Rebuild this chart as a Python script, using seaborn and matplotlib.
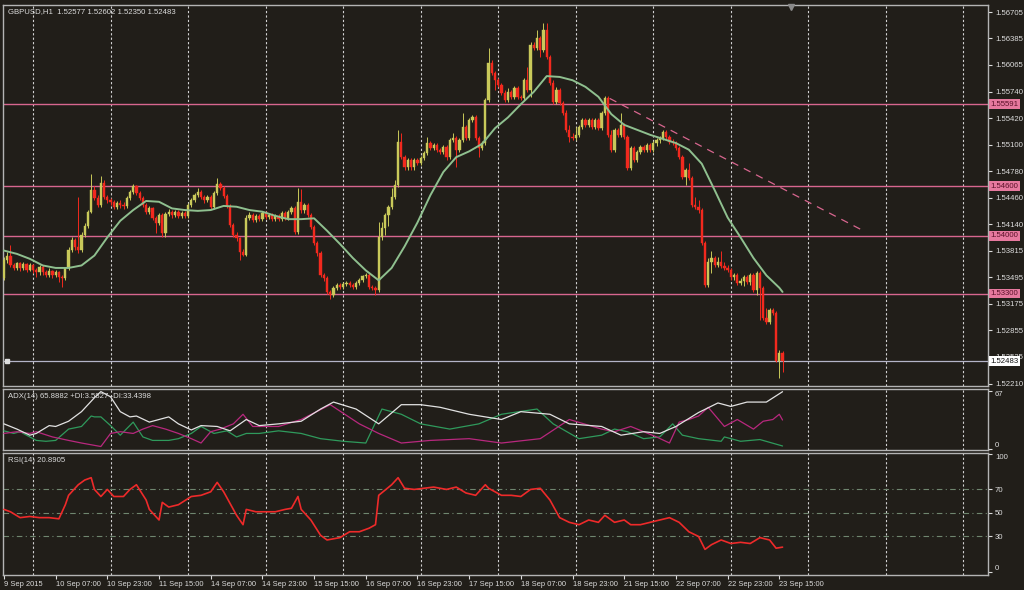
import pandas as pd
import matplotlib.pyplot as plt
import seaborn as sns

BG = '#211e19'
sns.set_theme(style="dark", rc={"axes.facecolor": BG, "figure.facecolor": BG})
plt.rcParams['font.family'] = ['Liberation Sans', 'DejaVu Sans']

# ---- GBPUSD H1 candles (bar 0 = 9 Sep 2015 15:00) ----
opens = [
    1.5349, 1.5370, 1.5376, 1.5364, 1.5361, 1.5367, 1.5361, 1.5366, 1.5358, 1.5364,
    1.5358, 1.5356, 1.5362, 1.5356, 1.5353, 1.5357, 1.5352, 1.5356, 1.5350, 1.5349,
    1.5361, 1.5383, 1.5395, 1.5386, 1.5383, 1.5401, 1.5412, 1.5429, 1.5455, 1.5445,
    1.5437, 1.5464, 1.5447, 1.5443, 1.5441, 1.5435, 1.5439, 1.5437, 1.5436, 1.5445,
    1.5453, 1.5460, 1.5452, 1.5445, 1.5437, 1.5429, 1.5433, 1.5421, 1.5415, 1.5425,
    1.5403, 1.5426, 1.5429, 1.5425, 1.5429, 1.5424, 1.5427, 1.5424, 1.5437, 1.5443,
    1.5449, 1.5453, 1.5447, 1.5443, 1.5447, 1.5435, 1.5452, 1.5462, 1.5458, 1.5448,
    1.5436, 1.5413, 1.5401, 1.5397, 1.5380, 1.5377, 1.5421, 1.5425, 1.5419, 1.5424,
    1.5420, 1.5427, 1.5422, 1.5425, 1.5420, 1.5424, 1.5420, 1.5427, 1.5421, 1.5429,
    1.5433, 1.5404, 1.5441, 1.5431, 1.5437, 1.5425, 1.5410, 1.5391, 1.5379, 1.5352,
    1.5349, 1.5332, 1.5328, 1.5337, 1.5340, 1.5338, 1.5341, 1.5343, 1.5340, 1.5338,
    1.5343, 1.5346, 1.5351, 1.5352, 1.5338, 1.5337, 1.5334, 1.5398, 1.5409, 1.5425,
    1.5435, 1.5447, 1.5461, 1.5513, 1.5495, 1.5483, 1.5491, 1.5483, 1.5491, 1.5488,
    1.5494, 1.5500, 1.5512, 1.5506, 1.5510, 1.5504, 1.5501, 1.5507, 1.5495, 1.5516,
    1.5518, 1.5504, 1.5516, 1.5531, 1.5518, 1.5540, 1.5543, 1.5518, 1.5506, 1.5512,
    1.5564, 1.5609, 1.5597, 1.5588, 1.5582, 1.5572, 1.5564, 1.5574, 1.5568, 1.5579,
    1.5568, 1.5566, 1.5588, 1.5576, 1.5631, 1.5627, 1.5639, 1.5625, 1.5649, 1.5616,
    1.5585, 1.5562, 1.5576, 1.5560, 1.5548, 1.5528, 1.5519, 1.5518, 1.5522, 1.5531,
    1.5540, 1.5534, 1.5540, 1.5531, 1.5540, 1.5530, 1.5548, 1.5566, 1.5522, 1.5504,
    1.5528, 1.5522, 1.5534, 1.5519, 1.5482, 1.5506, 1.5491, 1.5501, 1.5507, 1.5504,
    1.5510, 1.5504, 1.5512, 1.5516, 1.5518, 1.5525, 1.5519, 1.5513, 1.5512, 1.5506,
    1.5495, 1.5471, 1.5479, 1.5470, 1.5437, 1.5435, 1.5431, 1.5391, 1.5340, 1.5368,
    1.5373, 1.5364, 1.5368, 1.5363, 1.5361, 1.5358, 1.5350, 1.5352, 1.5343, 1.5345,
    1.5350, 1.5344, 1.5352, 1.5334, 1.5355, 1.5337, 1.5301, 1.5295, 1.5310, 1.5306,
    1.5249, 1.52577,
]
highs = [
    1.5374, 1.5380, 1.5389, 1.5367, 1.5368, 1.5368, 1.5368, 1.5367, 1.5367, 1.5366,
    1.5361, 1.5364, 1.5364, 1.5358, 1.5361, 1.5358, 1.5358, 1.5357, 1.5352, 1.5362,
    1.5386, 1.5398, 1.5397, 1.5447, 1.5404, 1.5415, 1.5431, 1.5475, 1.5460, 1.5449,
    1.5472, 1.5467, 1.5449, 1.5445, 1.5443, 1.5442, 1.5443, 1.5441, 1.5448, 1.5455,
    1.5462, 1.5461, 1.5454, 1.5448, 1.5439, 1.5436, 1.5435, 1.5424, 1.5427, 1.5427,
    1.5429, 1.5432, 1.5431, 1.5431, 1.5431, 1.5430, 1.5430, 1.5439, 1.5445, 1.5452,
    1.5458, 1.5455, 1.5449, 1.5449, 1.5449, 1.5454, 1.5470, 1.5465, 1.5460, 1.5450,
    1.5438, 1.5415, 1.5404, 1.5399, 1.5384, 1.5425, 1.5429, 1.5427, 1.5426, 1.5426,
    1.5430, 1.5430, 1.5427, 1.5427, 1.5426, 1.5426, 1.5430, 1.5430, 1.5431, 1.5436,
    1.5436, 1.5458, 1.5456, 1.5439, 1.5439, 1.5427, 1.5413, 1.5393, 1.5381, 1.5355,
    1.5351, 1.5334, 1.5339, 1.5343, 1.5343, 1.5344, 1.5345, 1.5345, 1.5343, 1.5345,
    1.5349, 1.5353, 1.5355, 1.5355, 1.5340, 1.5339, 1.5416, 1.5416, 1.5427, 1.5437,
    1.5458, 1.5467, 1.5528, 1.5524, 1.5497, 1.5494, 1.5494, 1.5494, 1.5494, 1.5496,
    1.5502, 1.5519, 1.5514, 1.5512, 1.5512, 1.5506, 1.5510, 1.5510, 1.5518, 1.5524,
    1.5520, 1.5518, 1.5548, 1.5534, 1.5542, 1.5546, 1.5546, 1.5520, 1.5514, 1.5566,
    1.5627, 1.5612, 1.5599, 1.5591, 1.5585, 1.5576, 1.5579, 1.5576, 1.5581, 1.5581,
    1.5570, 1.5591, 1.5604, 1.5634, 1.5634, 1.5649, 1.5641, 1.5657, 1.5657, 1.5618,
    1.5588, 1.5580, 1.5579, 1.5563, 1.5552, 1.5534, 1.5524, 1.5531, 1.5534, 1.5542,
    1.5542, 1.5542, 1.5542, 1.5542, 1.5542, 1.5551, 1.5569, 1.5569, 1.5528, 1.5530,
    1.5530, 1.5548, 1.5536, 1.5522, 1.5508, 1.5508, 1.5504, 1.5510, 1.5510, 1.5512,
    1.5512, 1.5514, 1.5518, 1.5520, 1.5528, 1.5528, 1.5522, 1.5517, 1.5514, 1.5508,
    1.5497, 1.5482, 1.5488, 1.5472, 1.5447, 1.5443, 1.5433, 1.5393, 1.5373, 1.5382,
    1.5375, 1.5374, 1.5382, 1.5368, 1.5364, 1.5361, 1.5355, 1.5355, 1.5349, 1.5352,
    1.5352, 1.5355, 1.5355, 1.5357, 1.5357, 1.5339, 1.5312, 1.5312, 1.5312, 1.5309,
    1.5262, 1.52602,
]
lows = [
    1.5346, 1.5367, 1.5362, 1.5358, 1.5358, 1.5357, 1.5358, 1.5356, 1.5357, 1.5355,
    1.5350, 1.5353, 1.5352, 1.5350, 1.5350, 1.5349, 1.5350, 1.5344, 1.5338, 1.5346,
    1.5358, 1.5380, 1.5383, 1.5379, 1.5380, 1.5398, 1.5409, 1.5427, 1.5443, 1.5435,
    1.5435, 1.5444, 1.5439, 1.5437, 1.5432, 1.5432, 1.5433, 1.5432, 1.5433, 1.5443,
    1.5450, 1.5449, 1.5443, 1.5435, 1.5426, 1.5426, 1.5419, 1.5403, 1.5413, 1.5399,
    1.5399, 1.5424, 1.5421, 1.5422, 1.5421, 1.5421, 1.5421, 1.5421, 1.5435, 1.5441,
    1.5447, 1.5444, 1.5439, 1.5441, 1.5432, 1.5432, 1.5449, 1.5455, 1.5445, 1.5433,
    1.5410, 1.5398, 1.5393, 1.5370, 1.5375, 1.5375, 1.5419, 1.5416, 1.5416, 1.5418,
    1.5418, 1.5420, 1.5420, 1.5418, 1.5418, 1.5418, 1.5418, 1.5419, 1.5419, 1.5426,
    1.5402, 1.5402, 1.5428, 1.5428, 1.5422, 1.5408, 1.5389, 1.5376, 1.5350, 1.5345,
    1.5329, 1.5324, 1.5326, 1.5334, 1.5335, 1.5335, 1.5339, 1.5338, 1.5335, 1.5335,
    1.5340, 1.5344, 1.5349, 1.5335, 1.5334, 1.5328, 1.5332, 1.5395, 1.5401, 1.5412,
    1.5432, 1.5444, 1.5459, 1.5493, 1.5480, 1.5480, 1.5480, 1.5480, 1.5485, 1.5485,
    1.5491, 1.5497, 1.5504, 1.5504, 1.5501, 1.5499, 1.5499, 1.5491, 1.5493, 1.5513,
    1.5483, 1.5501, 1.5513, 1.5516, 1.5516, 1.5537, 1.5516, 1.5495, 1.5504, 1.5510,
    1.5562, 1.5594, 1.5576, 1.5580, 1.5570, 1.5562, 1.5562, 1.5565, 1.5565, 1.5565,
    1.5564, 1.5564, 1.5574, 1.5568, 1.5625, 1.5625, 1.5616, 1.5622, 1.5614, 1.5582,
    1.5559, 1.5559, 1.5558, 1.5546, 1.5525, 1.5513, 1.5516, 1.5516, 1.5519, 1.5529,
    1.5531, 1.5531, 1.5529, 1.5529, 1.5528, 1.5528, 1.5546, 1.5519, 1.5501, 1.5501,
    1.5519, 1.5519, 1.5517, 1.5479, 1.5479, 1.5489, 1.5489, 1.5499, 1.5501, 1.5501,
    1.5501, 1.5501, 1.5508, 1.5512, 1.5516, 1.5517, 1.5511, 1.5510, 1.5504, 1.5493,
    1.5468, 1.5461, 1.5467, 1.5435, 1.5432, 1.5428, 1.5389, 1.5338, 1.5338, 1.5355,
    1.5362, 1.5362, 1.5361, 1.5358, 1.5356, 1.5347, 1.5347, 1.5340, 1.5340, 1.5339,
    1.5341, 1.5340, 1.5332, 1.5328, 1.5298, 1.5298, 1.5293, 1.5293, 1.5304, 1.5247,
    1.5228, 1.52350,
]
closes = [
    1.5370, 1.5376, 1.5364, 1.5361, 1.5367, 1.5361, 1.5366, 1.5358, 1.5364, 1.5358,
    1.5356, 1.5362, 1.5356, 1.5353, 1.5357, 1.5352, 1.5356, 1.5350, 1.5349, 1.5361,
    1.5383, 1.5395, 1.5386, 1.5383, 1.5401, 1.5412, 1.5429, 1.5455, 1.5445, 1.5437,
    1.5464, 1.5447, 1.5443, 1.5441, 1.5435, 1.5439, 1.5437, 1.5436, 1.5445, 1.5453,
    1.5460, 1.5452, 1.5445, 1.5437, 1.5429, 1.5433, 1.5421, 1.5415, 1.5425, 1.5403,
    1.5426, 1.5429, 1.5425, 1.5429, 1.5424, 1.5427, 1.5424, 1.5437, 1.5443, 1.5449,
    1.5453, 1.5447, 1.5443, 1.5447, 1.5435, 1.5452, 1.5462, 1.5458, 1.5448, 1.5436,
    1.5413, 1.5401, 1.5397, 1.5380, 1.5377, 1.5421, 1.5425, 1.5419, 1.5424, 1.5420,
    1.5427, 1.5422, 1.5425, 1.5420, 1.5424, 1.5420, 1.5427, 1.5421, 1.5429, 1.5433,
    1.5404, 1.5441, 1.5431, 1.5437, 1.5425, 1.5410, 1.5391, 1.5379, 1.5352, 1.5349,
    1.5332, 1.5328, 1.5337, 1.5340, 1.5338, 1.5341, 1.5343, 1.5340, 1.5338, 1.5343,
    1.5346, 1.5351, 1.5352, 1.5338, 1.5337, 1.5334, 1.5398, 1.5409, 1.5425, 1.5435,
    1.5447, 1.5461, 1.5513, 1.5495, 1.5483, 1.5491, 1.5483, 1.5491, 1.5488, 1.5494,
    1.5500, 1.5512, 1.5506, 1.5510, 1.5504, 1.5501, 1.5507, 1.5495, 1.5516, 1.5518,
    1.5504, 1.5516, 1.5531, 1.5518, 1.5540, 1.5543, 1.5518, 1.5506, 1.5512, 1.5564,
    1.5609, 1.5597, 1.5588, 1.5582, 1.5572, 1.5564, 1.5574, 1.5568, 1.5579, 1.5568,
    1.5566, 1.5588, 1.5576, 1.5631, 1.5627, 1.5639, 1.5625, 1.5649, 1.5616, 1.5585,
    1.5562, 1.5576, 1.5560, 1.5548, 1.5528, 1.5519, 1.5518, 1.5522, 1.5531, 1.5540,
    1.5534, 1.5540, 1.5531, 1.5540, 1.5530, 1.5548, 1.5566, 1.5522, 1.5504, 1.5528,
    1.5522, 1.5534, 1.5519, 1.5482, 1.5506, 1.5491, 1.5501, 1.5507, 1.5504, 1.5510,
    1.5504, 1.5512, 1.5516, 1.5518, 1.5525, 1.5519, 1.5513, 1.5512, 1.5506, 1.5495,
    1.5471, 1.5479, 1.5470, 1.5437, 1.5435, 1.5431, 1.5391, 1.5340, 1.5368, 1.5373,
    1.5364, 1.5368, 1.5363, 1.5361, 1.5358, 1.5350, 1.5352, 1.5343, 1.5345, 1.5350,
    1.5344, 1.5352, 1.5334, 1.5355, 1.5337, 1.5301, 1.5295, 1.5310, 1.5306, 1.5249,
    1.5258, 1.52483,
]

# moving average line (bar index, price)
ma_bars = [0, 4, 8, 12, 16, 20, 24, 28, 32, 36, 40, 44, 48, 52, 56, 60, 64, 68, 72, 76,
           80, 84, 88, 92, 96, 100, 104, 108, 112, 116, 120, 124, 128, 132, 136, 140, 144,
           148, 152, 156, 160, 164, 168, 172, 176, 180, 184, 188, 192, 196, 200, 204, 208,
           212, 216, 220, 224, 228, 232, 236, 240, 241]
ma_vals = [1.5382, 1.5378, 1.5372, 1.5364, 1.5361, 1.5361, 1.5364, 1.5376, 1.5398, 1.5418,
           1.5431, 1.5442, 1.5441, 1.5433, 1.5431, 1.5430, 1.5431, 1.5436, 1.5435, 1.5431,
           1.5429, 1.5424, 1.5420, 1.5420, 1.5421, 1.5406, 1.5390, 1.5373, 1.5358, 1.5346,
           1.5361, 1.5387, 1.5416, 1.5449, 1.5477, 1.5495, 1.5502, 1.5511, 1.5530, 1.5543,
           1.5559, 1.5574, 1.5593, 1.5592, 1.5588, 1.5580, 1.5568, 1.5547, 1.5534, 1.5528,
           1.5522, 1.5517, 1.5512, 1.5504, 1.5487, 1.5455, 1.5422, 1.5398, 1.5373, 1.5352,
           1.5337, 1.5332]

# ADX(14) panel
adx_bars = [0, 4, 8, 10, 14, 16, 20, 24, 28, 30, 33, 36, 39, 41, 45, 51, 54, 58, 61, 66,
            70, 75, 79, 85, 92, 98, 102, 109, 116, 123, 129, 135, 144, 154, 160, 169, 175,
            185, 191, 198, 203, 208, 215, 221, 225, 230, 236, 241]
adx_vals = [29, 23, 16, 18, 27, 26, 32, 43, 59, 66, 60, 43, 37, 38, 31, 37, 29, 22, 27, 26,
            21, 34, 27, 29, 32, 46, 54, 46, 29, 51, 51, 48, 40, 34, 43, 40, 29,
            26, 16, 20, 18, 26, 42, 53, 49, 54, 54, 65.9]
pdi_bars = [0, 3, 5, 7, 10, 13, 16, 20, 24, 27, 28, 30, 33, 36, 40, 43, 46, 51, 54, 58,
            61, 65, 69, 72, 75, 79, 85, 92, 98, 105, 112, 117, 123, 129, 138, 147, 154,
            165, 170, 178, 185, 189, 193, 198, 203, 207, 210, 215, 222, 223, 228, 234, 241]
pdi_vals = [21, 18, 20, 16, 10, 9, 10, 23, 26, 38, 37, 37, 27, 16, 31, 14, 10, 10, 12, 18,
            26, 18, 21, 14, 18, 18, 21, 18, 12, 9, 7, 46, 40, 29, 23, 29, 40,
            46, 29, 12, 16, 23, 20, 12, 14, 29, 16, 12, 9, 14, 9, 11, 3.6]
mdi_bars = [0, 4, 8, 10, 15, 20, 24, 30, 33, 36, 40, 43, 46, 50, 54, 58, 61, 64, 67, 71,
            74, 77, 80, 85, 92, 101, 110, 116, 123, 132, 144, 154, 166, 175, 185, 189, 194,
            198, 202, 206, 209, 212, 215, 218, 223, 227, 232, 235, 238, 240, 241]
mdi_vals = [18, 20, 18, 20, 14, 10, 7, 3, 18, 20, 18, 23, 27, 23, 18, 12, 7, 20, 23, 29,
            40, 26, 26, 26, 34, 51, 29, 18, 7, 10, 12, 7, 12, 34, 23, 20, 26,
            20, 14, 7, 31, 34, 38, 48, 26, 34, 23, 32, 34, 40, 33.4]

# RSI(14) panel
rsi_bars = [0, 2, 5, 8, 11, 14, 17, 19, 20, 23, 25, 27, 28, 30, 32, 34, 37, 39, 41, 44,
            45, 48, 49, 51, 54, 58, 61, 64, 66, 68, 72, 74, 75, 78, 81, 84, 87, 89, 91,
            92, 95, 98, 100, 104, 107, 110, 113, 115, 116, 120, 122, 124, 127, 130, 133,
            137, 140, 143, 146, 149, 150, 154, 157, 160, 163, 166, 169, 172, 175, 178,
            181, 184, 186, 189, 192, 194, 197, 200, 203, 206, 209, 212, 215, 217, 219,
            222, 225, 228, 231, 234, 237, 239, 241]
rsi_vals = [53, 51, 46, 47, 46, 46, 45, 57, 65, 74, 78, 80, 70, 64, 70, 64, 64, 70, 74, 61,
            53, 44, 59, 55, 57, 64, 65, 68, 76, 68, 48, 40, 53, 51, 51, 51, 53, 54, 64,
            53, 44, 31, 27, 29, 34, 34, 37, 40, 65, 74, 80, 71, 70, 71, 72,
            70, 72, 67, 65, 74, 71, 65, 65, 64, 70, 71, 61, 46, 42, 40,
            44, 42, 48, 42, 44, 40, 40, 42, 44, 46, 42, 34, 30, 19, 23,
            27, 24, 25, 24, 29, 27, 20, 20.9]

price_ticks = [1.56705, 1.56385, 1.56065, 1.55740, 1.55420, 1.55100, 1.54780, 1.54460,
               1.54140, 1.53815, 1.53495, 1.53175, 1.52855, 1.52535, 1.52210]
level_lines = [1.55591, 1.54600, 1.54000, 1.53300]
bid_price = 1.52483
trend_bars = [187.5, 265.5]
trend_vals = [1.5566, 1.5407]
date_bars = list(range(0, 241, 16))
date_labels = ['9 Sep 2015', '10 Sep 07:00', '10 Sep 23:00', '11 Sep 15:00', '14 Sep 07:00',
               '14 Sep 23:00', '15 Sep 15:00', '16 Sep 07:00', '16 Sep 23:00', '17 Sep 15:00',
               '18 Sep 07:00', '18 Sep 23:00', '21 Sep 15:00', '22 Sep 07:00', '22 Sep 23:00',
               '23 Sep 15:00']
day_bars = list(range(9, 300, 24))

# colours
UP = '#c9c95a'
DN = '#f2291e'
MA_C = '#8fc08f'
LEVEL_C = '#d8668f'
TXT = '#dcdcdc'
FRAME = '#b4b4b4'
GRID = '#d2d2d2'

df = pd.DataFrame({'open': opens, 'high': highs, 'low': lows, 'close': closes})
df['bar'] = range(len(df))
df['up'] = df['close'] >= df['open']

W, H = 1024, 590
fig = plt.figure(figsize=(W / 100, H / 100), dpi=100)


def px_axes(l, t, r, b):
    return fig.add_axes([l / W, 1 - b / H, (r - l) / W, (b - t) / H])


ax = px_axes(3, 5, 988, 386)
ax_adx = px_axes(3, 389, 988, 450)
ax_rsi = px_axes(3, 453, 988, 575)
XLIM = (-0.3, 304.6)

for a in (ax, ax_adx, ax_rsi):
    a.set_facecolor(BG)
    a.set_xlim(*XLIM)
    for s in a.spines.values():
        s.set_edgecolor(FRAME)
        s.set_linewidth(1.0)
    for b in day_bars:
        a.axvline(b, color=GRID, lw=0.8, ls=(0, (2, 2)), zorder=1)
    a.yaxis.tick_right()
    a.tick_params(axis='y', colors=TXT, labelsize=5.6, length=3, width=0.8, pad=2,
                  direction='out', right=True, left=False)
    a.grid(False)

# ---- price panel ----
for lv in level_lines:
    ax.axhline(lv, color=LEVEL_C, lw=1.0, zorder=2)
ax.axhline(bid_price, color='#b4b4c8', lw=0.9, zorder=2)

for up, col in ((True, UP), (False, DN)):
    d = df[df['up'] == up]
    ax.vlines(d['bar'], d['low'], d['high'], color=col, lw=0.7, zorder=3)
    ax.bar(d['bar'], (d['close'] - d['open']).abs(), bottom=d[['open', 'close']].min(axis=1),
           width=0.7, color=col, edgecolor=col, linewidth=0.3, zorder=4)

sns.lineplot(x=ma_bars, y=ma_vals, ax=ax, color=MA_C, linewidth=1.4, zorder=5)
ax.plot(trend_bars, trend_vals, color=LEVEL_C, lw=0.9, ls=(0, (6, 5)), zorder=5)

ax.set_ylim(1.52182, 1.56790)
ax.set_yticks(price_ticks)
ax.set_yticklabels([f'{v:.5f}' for v in price_ticks])
ax.set_xticks([])
ax.set_ylabel('')
tr = ax.get_yaxis_transform()
for lv in level_lines:
    ax.text(1.0025, lv, f'{lv:.5f}', transform=tr, ha='left', va='center', fontsize=5.6,
            color='#5a1028', clip_on=False, zorder=10,
            bbox=dict(boxstyle='square,pad=0.18', fc='#e6799e', ec='none'))
ax.text(1.0025, bid_price, f'{bid_price:.5f}', transform=tr, ha='left', va='center',
        fontsize=5.6, color='#111111', clip_on=False, zorder=10,
        bbox=dict(boxstyle='square,pad=0.18', fc='white', ec='none'))
ax.plot([0.9], [bid_price], marker='s', ms=2.5, color='#dddddd', zorder=6, clip_on=False)
ax.plot([243.5], [1.5676], marker='v', ms=4, color='#8a8a8a', zorder=6, clip_on=False)
fig.text(8 / W, 1 - 12 / H, 'GBPUSD,H1  1.52577 1.52602 1.52350 1.52483', fontsize=5.6,
         color=TXT, va='center', ha='left')

# ---- ADX panel ----
sns.lineplot(x=pdi_bars, y=pdi_vals, ax=ax_adx, color='#2f9a5c', linewidth=0.9, zorder=3)
sns.lineplot(x=mdi_bars, y=mdi_vals, ax=ax_adx, color='#b8287e', linewidth=0.9, zorder=3)
sns.lineplot(x=adx_bars, y=adx_vals, ax=ax_adx, color='#e2e2e2', linewidth=0.9, zorder=4)
ax_adx.set_ylim(-1, 69)
ax_adx.set_yticks([0, 67])
ax_adx.set_yticklabels(['0', '67'])
for lab, va in zip(ax_adx.get_yticklabels(), ('bottom', 'top')):
    lab.set_va(va)
ax_adx.set_xticks([])
ax_adx.set_ylabel('')
fig.text(8 / W, 1 - 397 / H, 'ADX(14) 65.8882 +DI:3.5827 -DI:33.4398', fontsize=5.6,
         color=TXT, va='center', ha='left')

# ---- RSI panel ----
for lv in (70, 50, 30):
    ax_rsi.axhline(lv, color='#6f866f', lw=0.8, ls=(0, (5, 3, 1, 3)), zorder=2)
sns.lineplot(x=rsi_bars, y=rsi_vals, ax=ax_rsi, color='#ee2a2a', linewidth=1.2, zorder=4)
ax_rsi.set_ylim(-2.8, 101)
ax_rsi.set_yticks([0, 30, 50, 70, 100])
ax_rsi.set_yticklabels(['0', '30', '50', '70', '100'])
labs = ax_rsi.get_yticklabels()
labs[0].set_va('bottom')
labs[-1].set_va('top')
ax_rsi.set_ylabel('')
ax_rsi.set_xticks(date_bars)
ax_rsi.set_xticklabels(date_labels)
ax_rsi.tick_params(axis='x', colors=TXT, labelsize=5.4, length=3, width=0.8, pad=1,
                   direction='out', bottom=True)
for lab in ax_rsi.get_xticklabels():
    lab.set_ha('left')
ax_rsi.set_xlabel('')
fig.text(8 / W, 1 - 460 / H, 'RSI(14) 20.8905', fontsize=5.6, color=TXT, va='center',
         ha='left')

fig.savefig('out.png', dpi=100, facecolor=BG)
